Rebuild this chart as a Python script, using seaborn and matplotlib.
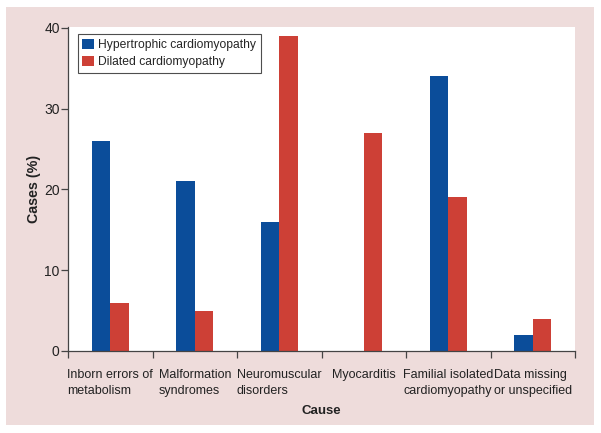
import matplotlib
matplotlib.use("Agg")
import matplotlib.pyplot as plt
import seaborn as sns
import pandas as pd
from matplotlib.patches import Rectangle

causes = ["Inborn errors of\nmetabolism", "Malformation\nsyndromes", "Neuromuscular\ndisorders",
          "Myocarditis", "Familial isolated\ncardiomyopathy", "Data missing\nor unspecified"]
hypertrophic = [26, 21, 16, 0, 34, 2]
dilated = [6, 5, 39, 27, 19, 4]
series = ["Hypertrophic cardiomyopathy", "Dilated cardiomyopathy"]
yticks = [0, 10, 20, 30, 40]

df = pd.DataFrame({
    "Cause": causes * 2,
    "Cases": hypertrophic + dilated,
    "Type": [series[0]] * len(causes) + [series[1]] * len(causes),
})

sns.set_theme(style="white")
plt.rcParams["font.family"] = ["Liberation Sans", "DejaVu Sans"]

fig = plt.figure(figsize=(6.01, 4.33), dpi=100, facecolor="white")
bg = Rectangle((6 / 601, 8 / 433), 588 / 601, 418 / 433,
               transform=fig.transFigure, facecolor="#eedcdb",
               edgecolor="none", zorder=-10)
fig.add_artist(bg)
ax = fig.add_axes([68 / 601, 82 / 433, 507 / 601, 324 / 433])
ax.set_zorder(5)
ax.set_facecolor("white")

sns.barplot(data=df, x="Cause", y="Cases", hue="Type", order=causes,
            palette=["#0b4d9a", "#cd4036"], width=0.44, saturation=1,
            ax=ax, edgecolor="none", linewidth=0)

ax.set_xlim(-0.5, len(causes) - 0.5)
ax.set_ylim(0, 40.1)
ax.set_yticks(yticks)
ax.set_yticklabels([str(v) for v in yticks], fontsize=10, color="#222222")

ax.set_xticks([i - 0.5 for i in range(len(causes) + 1)])
ax.set_xticklabels([])
ax.set_xticks(range(len(causes)), minor=True)
ax.set_xticklabels(causes, minor=True, fontsize=9, color="#222222",
                   multialignment="left", linespacing=1.4)
ax.tick_params(axis="x", which="minor", length=0, pad=13)
ax.tick_params(axis="x", which="major", length=5, width=0.9, color="#444444", direction="out", bottom=True)
ax.tick_params(axis="y", length=5, width=0.9, color="#444444", direction="out", left=True, pad=1)

for s in ["top", "right"]:
    ax.spines[s].set_visible(False)
for s in ["left", "bottom"]:
    ax.spines[s].set_color("#444444")
    ax.spines[s].set_linewidth(0.9)

ax.set_xlabel("Cause", fontsize=9.5, fontweight="bold", labelpad=6, color="#222222")
ax.set_ylabel("Cases (%)", fontsize=10.3, fontweight="bold", labelpad=2, color="#222222")

leg = ax.legend(loc="upper left", bbox_to_anchor=(0.019, 0.978), fontsize=8.7,
                frameon=True, fancybox=False, edgecolor="#222222",
                handlelength=0.95, handleheight=0.95, handletextpad=0.35,
                borderpad=0.4, labelspacing=0.35, borderaxespad=0)
leg.get_frame().set_linewidth(0.8)
leg.set_title(None)

fig.savefig("out.png", dpi=100, facecolor="white")
